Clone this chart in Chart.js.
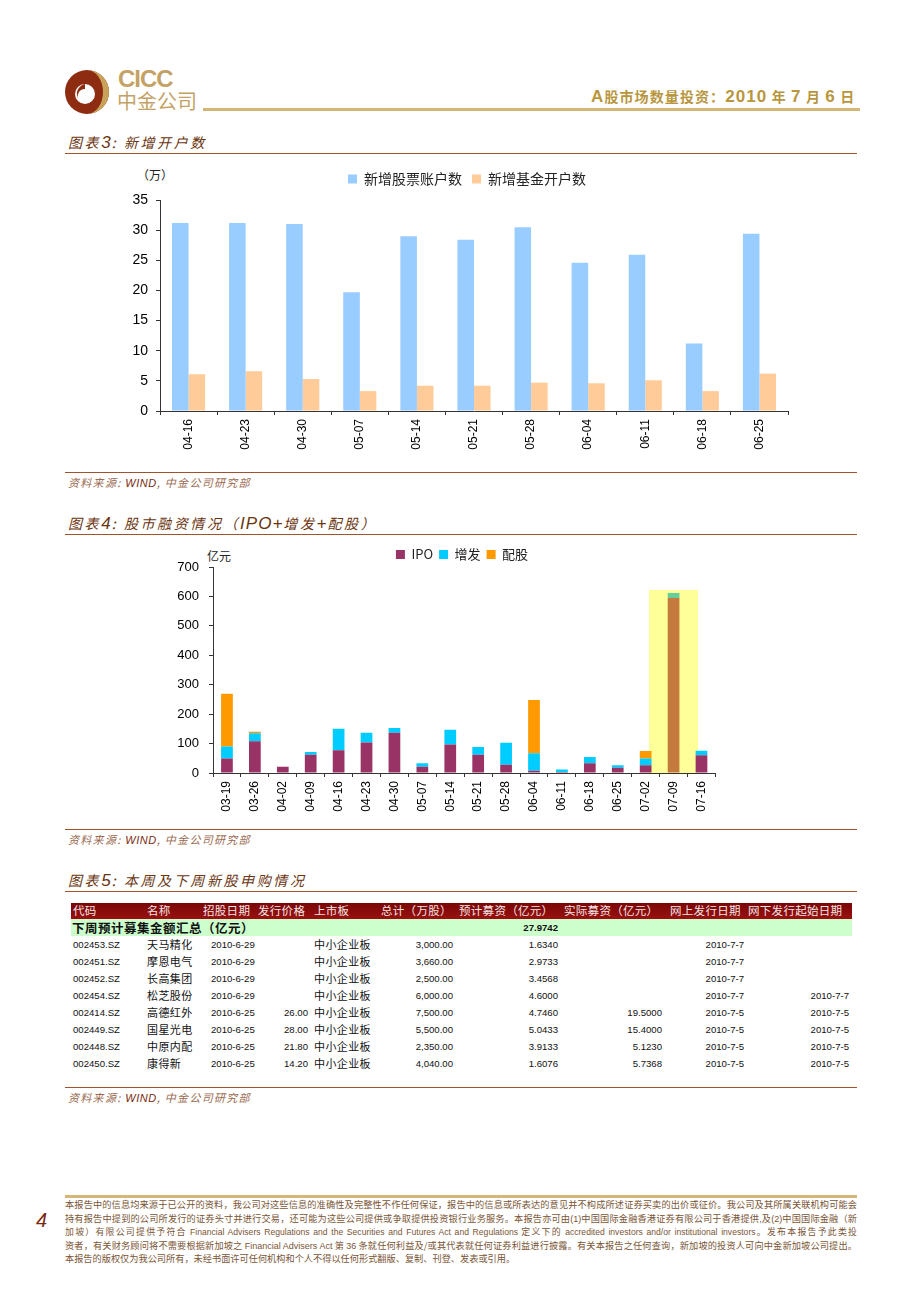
<!DOCTYPE html>
<html>
<head>
<meta charset="utf-8">
<script src="https://cdn.jsdelivr.net/npm/chart.js@4/dist/chart.umd.min.js"></script>
<style>
  body { margin: 0; background: #fff; }
  #page { position: relative; width: 920px; height: 1302px; overflow: hidden; font-family: "Noto Sans CJK SC", sans-serif; }
  .abs { position: absolute; white-space: nowrap; }
  .rule { position: absolute; left: 65px; width: 792px; height: 0; border-top: 1.5px solid #a0522d; }
  .title { position: absolute; left: 68px; font-size: 14px; font-style: italic; color: #6b3510; white-space: nowrap; letter-spacing: 2.6px; }
  .title b { font-family: "Liberation Sans", Arial, sans-serif; font-size: 17px; font-weight: normal; letter-spacing: 1px; }
  .source { position: absolute; left: 68px; font-size: 11px; font-style: italic; color: #9a6a50; white-space: nowrap; letter-spacing: 1.3px; }
  .source span { font-family: "Liberation Sans", Arial, sans-serif; color: #7a2a10; letter-spacing: 0.5px; }
  .cell { position: absolute; white-space: nowrap; font-size: 11px; line-height: 17px; color: #111; }
  .num { font-family: "Liberation Sans", Arial, sans-serif; font-size: 9.6px; }
  .foot { position: absolute; left: 65px; width: 792px; font-size: 9.2px; line-height: 13.4px; color: #7a5535; text-align: justify; text-align-last: justify; white-space: nowrap; }
  .foot .en { font-family: "Liberation Sans", Arial, sans-serif; font-size: 9px; }
</style>
</head>
<body>
<div id="page">

  <!-- header -->
  <svg class="abs" style="left:62px;top:66px" width="52" height="52" viewBox="0 0 52 52">
    <circle cx="25" cy="26" r="22" fill="#8e2c12"/>
    <path d="M25 4 A22 22 0 0 1 25 48 A16 22 0 0 0 25 4 Z" fill="#c9a25a"/>
    <circle cx="23" cy="28" r="10" fill="#fff"/>
    <path d="M23 18 A10 10 0 0 0 17 34 A7 7 0 0 1 23 23 Z" fill="#8e2c12"/>
  </svg>
  <div class="abs" style="left:118px;top:65px;font-family:'Liberation Sans',Arial,sans-serif;font-weight:bold;font-size:24px;color:#c4a266;letter-spacing:-1px">CICC</div>
  <div class="abs" style="left:117px;top:86px;font-size:20px;color:#c4a266">中金公司</div>
  <div class="abs" style="left:203px;top:108px;width:657px;border-top:3px solid #d4b676"></div>
  <div class="abs" style="left:591px;top:86px;font-size:14px;color:#b8963e;font-weight:bold;letter-spacing:1.1px">
    <span style="font-family:'Liberation Sans',Arial,sans-serif;font-size:17px">A</span>股市场数量投资：<span style="font-family:'Liberation Sans',Arial,sans-serif;font-size:17px">2010</span> 年 <span style="font-family:'Liberation Sans',Arial,sans-serif;font-size:17px">7</span> 月 <span style="font-family:'Liberation Sans',Arial,sans-serif;font-size:17px">6</span> 日
  </div>

  <!-- figure 3 -->
  <div class="title" style="top:132px">图表<b>3</b>: 新增开户数</div>
  <div class="rule" style="top:153px"></div>
  <div class="abs" style="left:137px;top:166px;font-size:12px;color:#222">（万）</div>
  <canvas id="accountChart" class="abs" style="left:110px;top:160px" width="690" height="301"></canvas>
  <div class="rule" style="top:472px;border-top-width:1px"></div>
  <div class="source" style="top:474px">资料来源: <span>WIND</span>, 中金公司研究部</div>

  <!-- figure 4 -->
  <div class="title" style="top:513px">图表<b>4</b>: 股市融资情况（<b>IPO+</b>增发<b>+</b>配股）</div>
  <div class="rule" style="top:534px"></div>
  <div class="abs" style="left:207px;top:547px;font-size:12px;color:#222">亿元</div>
  <canvas id="financeChart" class="abs" style="left:160px;top:540px" width="560" height="283"></canvas>
  <div class="rule" style="top:829px;border-top-width:1px"></div>
  <div class="source" style="top:831px">资料来源: <span>WIND</span>, 中金公司研究部</div>

  <!-- figure 5 -->
  <div class="title" style="top:870px">图表<b>5</b>: 本周及下周新股申购情况</div>
  <div class="rule" style="top:891px"></div>
  <div class="abs" style="left:71px;top:903px;width:781px;height:16px;background:linear-gradient(#7a0606,#9a1010)"></div>
  <div class="abs" style="left:71px;top:919px;width:781px;height:17px;background:#ccffcc"></div>
  <div id="ipoTable"></div>
  <div class="rule" style="top:1087px;border-top-width:1px"></div>
  <div class="source" style="top:1089px">资料来源: <span>WIND</span>, 中金公司研究部</div>

  <!-- footer -->
  <div class="abs" style="left:65px;top:1195px;width:792px;border-top:3px solid #d4b676"></div>
  <div class="abs" style="left:36px;top:1209px;font-family:'Liberation Sans',Arial,sans-serif;font-style:italic;font-size:20px;color:#7a2a10">4</div>
  <div class="foot" style="top:1198px">本报告中的信息均来源于已公开的资料，我公司对这些信息的准确性及完整性不作任何保证，报告中的信息或所表达的意见并不构成所述证券买卖的出价或征价。我公司及其所属关联机构可能会</div>
  <div class="foot" style="top:1211.5px">持有报告中提到的公司所发行的证券头寸并进行交易，还可能为这些公司提供或争取提供投资银行业务服务。本报告亦可由<span class="en">(1)</span>中国国际金融香港证券有限公司于香港提供<span class="en">,</span>及<span class="en">(2)</span>中国国际金融（新</div>
  <div class="foot" style="top:1225px;font-size:8.9px">加坡）有限公司提供予符合 <span class="en" style="font-size:8.6px">Financial Advisers Regulations and the Securities and Futures Act and Regulations</span> 定义下的 <span class="en" style="font-size:8.6px">accredited investors and/or institutional investors</span>。发布本报告予此类投</div>
  <div class="foot" style="top:1238.5px">资者，有关财务顾问将不需要根据新加坡之 <span class="en">Financial Advisers Act</span> 第 <span class="en">36</span> 条就任何利益及/或其代表就任何证券利益进行披露。有关本报告之任何查询，新加坡的投资人可向中金新加坡公司提出。</div>
  <div class="foot" style="top:1252px;text-align:left;text-align-last:left">本报告的版权仅为我公司所有，未经书面许可任何机构和个人不得以任何形式翻版、复制、刊登、发表或引用。</div>
</div>

<script>
// figure 3: new accounts (10k)
const accountWeeks = ["04-16", "04-23", "04-30", "05-07", "05-14", "05-21", "05-28", "06-04", "06-11", "06-18", "06-25"];
const stockAccounts = [31.2, 31.2, 31.0, 19.7, 29.0, 28.4, 30.5, 24.6, 25.9, 11.2, 29.4];
const fundAccounts = [6.1, 6.6, 5.3, 3.3, 4.2, 4.2, 4.7, 4.6, 5.1, 3.3, 6.2];

// figure 4: financing (100m yuan)
const financeWeeks = ["03-19", "03-26", "04-02", "04-09", "04-16", "04-23", "04-30", "05-07", "05-14", "05-21", "05-28", "06-04", "06-11", "06-18", "06-25", "07-02", "07-09", "07-16"];
const ipoAmounts = [49, 108, 21, 62, 77, 104, 137, 21, 97, 62, 28, 8, 3, 33, 18, 26, 595, 60];
const seoAmounts = [41, 27, 0, 9, 73, 33, 16, 12, 50, 26, 75, 59, 9, 21, 8, 23, 17, 16];
const rightsAmounts = [179, 5, 0, 0, 0, 0, 0, 0, 0, 0, 0, 181, 0, 0, 0, 26, 0, 0];
const highlightIndex = 16;
const highlightTop = 622;

// figure 5: table
const tableHeaders = ["代码", "名称", "招股日期", "发行价格", "上市板", "总计（万股）", "预计募资（亿元）", "实际募资（亿元）", "网上发行日期", "网下发行起始日期"];
const headerLefts = [73, 147, 203, 258, 314, 381, 459, 564, 670, 748];
const tableRows = [
    ["002453.SZ", "天马精化", "2010-6-29", "", "中小企业板", "3,000.00", "1.6340", "", "2010-7-7", ""],
    ["002451.SZ", "摩恩电气", "2010-6-29", "", "中小企业板", "3,660.00", "2.9733", "", "2010-7-7", ""],
    ["002452.SZ", "长高集团", "2010-6-29", "", "中小企业板", "2,500.00", "3.4568", "", "2010-7-7", ""],
    ["002454.SZ", "松芝股份", "2010-6-29", "", "中小企业板", "6,000.00", "4.6000", "", "2010-7-7", "2010-7-7"],
    ["002414.SZ", "高德红外", "2010-6-25", "26.00", "中小企业板", "7,500.00", "4.7460", "19.5000", "2010-7-5", "2010-7-5"],
    ["002449.SZ", "国星光电", "2010-6-25", "28.00", "中小企业板", "5,500.00", "5.0433", "15.4000", "2010-7-5", "2010-7-5"],
    ["002448.SZ", "中原内配", "2010-6-25", "21.80", "中小企业板", "2,350.00", "3.9133", "5.1230", "2010-7-5", "2010-7-5"],
    ["002450.SZ", "康得新", "2010-6-25", "14.20", "中小企业板", "4,040.00", "1.6076", "5.7368", "2010-7-5", "2010-7-5"]
];
const summaryLabel = "下周预计募集金额汇总（亿元）";
const summaryValue = "27.9742";

Chart.defaults.font.family = '"Liberation Sans", Arial, sans-serif';
Chart.defaults.color = "#000";
Chart.defaults.animation = false;

const cjkFont = '"Noto Sans CJK SC", sans-serif';

// fixes the legend box height and nudges it sideways so it sits over the plot
function legendBox(h, dx) {
    return {
        id: "legendBox",
        beforeInit(chart) {
            if (!chart.legend) return;
            const fit = chart.legend.fit;
            chart.legend.fit = function () {
                fit.call(this);
                this.height = h;
            };
        },
        afterLayout(chart) {
            if (!chart.legend) return;
            chart.legend.left += dx;
            chart.legend.right += dx;
        }
    };
}

const accountCtx = document.getElementById("accountChart").getContext("2d");
new Chart(accountCtx, {
    type: "bar",
    data: {
        labels: accountWeeks,
        datasets: [{
            label: "新增股票账户数",
            data: stockAccounts,
            backgroundColor: "#99ccff"
        }, {
            label: "新增基金开户数",
            data: fundAccounts,
            backgroundColor: "#ffcc99"
        }]
    },
    options: {
        responsive: false,
        layout: { padding: { left: 0, right: 12, top: 2, bottom: 0 } },
        datasets: { bar: { categoryPercentage: 0.58, barPercentage: 1.0 } },
        plugins: {
            legend: {
                labels: { boxWidth: 9, boxHeight: 9, padding: 10, font: { family: cjkFont, size: 14 }, color: "#222" }
            },
            tooltip: { enabled: false }
        },
        scales: {
            x: {
                afterFit: (scale) => { scale.height = 50; },
                grid: { drawOnChartArea: false, drawTicks: true, tickLength: 4, color: "#333" },
                border: { color: "#333", width: 1 },
                ticks: { minRotation: 90, maxRotation: 90, padding: 4, font: { size: 12 } }
            },
            y: {
                min: 0,
                max: 35,
                afterFit: (scale) => { scale.width = 50; },
                grid: { drawOnChartArea: false, drawTicks: true, tickLength: 4, color: "#333" },
                border: { color: "#333", width: 1 },
                ticks: { stepSize: 5, padding: 8, font: { size: 14 } }
            }
        }
    },
    plugins: [legendBox(38, 18)]
});

const highlightPlugin = {
    id: "highlight",
    beforeDatasetsDraw(chart) {
        const x = chart.scales.x;
        const y = chart.scales.y;
        const half = (x.getPixelForValue(1) - x.getPixelForValue(0)) * 0.88;
        const cx = x.getPixelForValue(highlightIndex);
        const top = y.getPixelForValue(highlightTop);
        const ctx = chart.ctx;
        ctx.save();
        ctx.fillStyle = "#ffff99";
        ctx.fillRect(cx - half, top, half * 2, y.getPixelForValue(0) - top);
        ctx.restore();
    }
};

const financeCtx = document.getElementById("financeChart").getContext("2d");
new Chart(financeCtx, {
    type: "bar",
    data: {
        labels: financeWeeks,
        datasets: [{
            label: "IPO",
            data: ipoAmounts,
            backgroundColor: ipoAmounts.map((v, i) => i === highlightIndex ? "#c47a3c" : "#993366")
        }, {
            label: "增发",
            data: seoAmounts,
            backgroundColor: seoAmounts.map((v, i) => i === highlightIndex ? "#66cc99" : "#00ccff")
        }, {
            label: "配股",
            data: rightsAmounts,
            backgroundColor: "#ff9900"
        }]
    },
    options: {
        responsive: false,
        layout: { padding: { left: 0, right: 4, top: 2, bottom: 0 } },
        datasets: { bar: { categoryPercentage: 1.0, barPercentage: 0.42 } },
        plugins: {
            legend: {
                labels: { boxWidth: 9, boxHeight: 9, padding: 6, font: { family: cjkFont, size: 13 }, color: "#222" }
            },
            tooltip: { enabled: false }
        },
        scales: {
            x: {
                stacked: true,
                afterFit: (scale) => { scale.height = 50; },
                grid: { drawOnChartArea: false, drawTicks: true, tickLength: 4, color: "#333" },
                border: { color: "#333", width: 1 },
                ticks: { minRotation: 90, maxRotation: 90, padding: 4, font: { size: 12 } }
            },
            y: {
                stacked: true,
                min: 0,
                max: 700,
                afterFit: (scale) => { scale.width = 53; },
                grid: { drawOnChartArea: false, drawTicks: true, tickLength: 4, color: "#333" },
                border: { color: "#333", width: 1 },
                ticks: { stepSize: 100, padding: 10, font: { size: 13 } }
            }
        }
    },
    plugins: [legendBox(25, 24), highlightPlugin]
});

// table
const table = document.getElementById("ipoTable");
const colPos = [
    { x: 73, align: "left" }, { x: 147, align: "left" }, { x: 211, align: "left" },
    { x: 308, align: "right" }, { x: 314, align: "left" }, { x: 453, align: "right" },
    { x: 558, align: "right" }, { x: 662, align: "right" }, { x: 744, align: "right" },
    { x: 849, align: "right" }
];

function addCell(text, pos, top, extraClass, style) {
    const div = document.createElement("div");
    div.className = "cell" + (extraClass ? " " + extraClass : "");
    div.textContent = text;
    div.style.top = top + "px";
    if (pos.align === "left") {
        div.style.left = pos.x + "px";
    } else {
        div.style.right = (920 - pos.x) + "px";
    }
    if (style) Object.assign(div.style, style);
    table.appendChild(div);
}

for (let i = 0; i < tableHeaders.length; i++) {
    addCell(tableHeaders[i], { x: headerLefts[i], align: "left" }, 902, "", { color: "#f3e4e4", fontSize: "11.5px", letterSpacing: "0.3px" });
}
addCell(summaryLabel, { x: 72, align: "left" }, 919, "", { fontWeight: "bold", fontSize: "12.5px", letterSpacing: "0.5px" });
addCell(summaryValue, { x: 558, align: "right" }, 919, "num", { fontWeight: "bold" });

for (let r = 0; r < tableRows.length; r++) {
    const top = 935.5 + r * 17.1;
    for (let c = 0; c < tableRows[r].length; c++) {
        const text = tableRows[r][c];
        if (!text) continue;
        const isCjk = (c === 1 || c === 4);
        addCell(text, colPos[c], top, isCjk ? "" : "num", isCjk ? { letterSpacing: "0.4px" } : null);
    }
}
</script>
</body>
</html>
